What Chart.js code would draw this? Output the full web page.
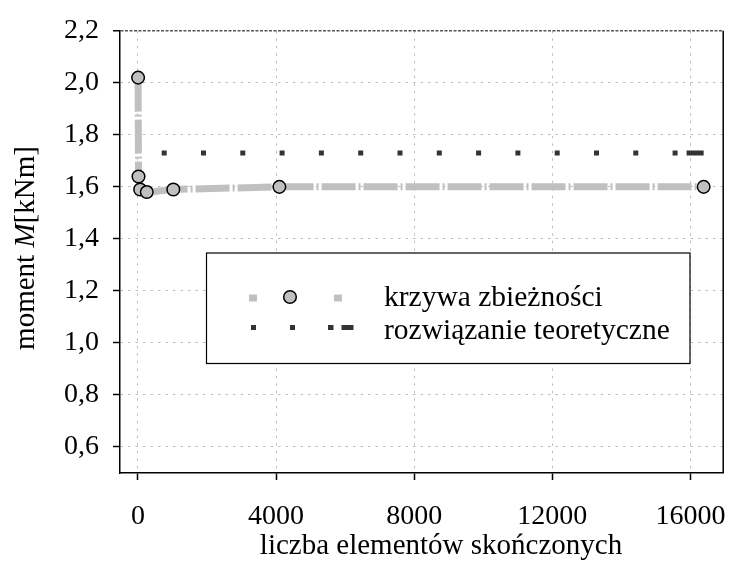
<!DOCTYPE html>
<html><head><meta charset="utf-8">
<script src="https://cdn.jsdelivr.net/npm/chart.js@4.4.1/dist/chart.umd.min.js"></script>
<style>html,body{margin:0;padding:0;background:#fff;} #wrap{width:731px;height:566px;}</style>
</head><body><div id="wrap"><canvas id="c" width="731" height="566"></canvas></div>
<script>
const elementCounts = [4, 16, 64, 256, 1024, 4096, 16384];
const momentValues = [2.02, 1.64, 1.59, 1.58, 1.59, 1.60, 1.60];
const theoryX = [4, 16384];
const theoryValues = [1.73, 1.73];
const xTicks = [0, 4000, 8000, 12000, 16000];
const yTicks = [0.6, 0.8, 1.0, 1.2, 1.4, 1.6, 1.8, 2.0, 2.2];
const seriesNames = ['krzywa zbieżności', 'rozwiązanie teoretyczne'];
const xTitle = 'liczba elementów skończonych';
const yTitleParts = ['moment ', 'M', '[kNm]'];

const FONT = '"Liberation Serif", "Times New Roman", serif';
const GRAY = '#c0c0c0';
const DARK = '#333333';
const GRID = '#bdbdbd';

const theoryDash = [0, 23.6];
for (let i = 0; i < 13; i++) theoryDash.push(5, 34.3);
theoryDash.push(5, 9, 20, 60);

const isTop = (c) => c.tick && Math.abs(c.tick.value - 2.2) < 1e-6;

const decor = {
  id: 'decor',
  afterDraw(chart) {
    const ctx = chart.ctx;
    const a = chart.chartArea;
    ctx.save();
    ctx.strokeStyle = '#000';
    ctx.lineWidth = 1.5;
    ctx.beginPath();
    ctx.moveTo(a.right, a.top);
    ctx.lineTo(a.right, a.bottom);
    ctx.stroke();

    ctx.fillStyle = '#000';
    ctx.font = '29px ' + FONT;
    ctx.textAlign = 'center';
    ctx.textBaseline = 'alphabetic';
    ctx.fillText(xTitle, 441, 554);

    ctx.translate(33.5, 248);
    ctx.rotate(-Math.PI / 2);
    ctx.textAlign = 'left';
    const fonts = ['29px ' + FONT, 'italic 29px ' + FONT, '29px ' + FONT];
    const widths = yTitleParts.map((t, i) => { ctx.font = fonts[i]; return ctx.measureText(t).width; });
    const total = widths.reduce((s, w) => s + w, 0);
    let px = -total / 2;
    yTitleParts.forEach((t, i) => { ctx.font = fonts[i]; ctx.fillText(t, px, 0); px += widths[i]; });
    ctx.setTransform(1, 0, 0, 1, 0, 0);

    const bx = 206.5, by = 253, bw = 483.5, bh = 110.5;
    ctx.fillStyle = '#fff';
    ctx.fillRect(bx, by, bw, bh);
    ctx.strokeStyle = '#000';
    ctx.lineWidth = 1.2;
    ctx.strokeRect(bx, by, bw, bh);

    ctx.strokeStyle = GRAY;
    ctx.lineWidth = 7;
    ctx.setLineDash([8, 77, 8, 20]);
    ctx.beginPath();
    ctx.moveTo(249, 298);
    ctx.lineTo(342, 298);
    ctx.stroke();
    ctx.setLineDash([]);
    ctx.beginPath();
    ctx.arc(290, 297, 6.3, 0, Math.PI * 2);
    ctx.fillStyle = GRAY;
    ctx.fill();
    ctx.lineWidth = 1.5;
    ctx.strokeStyle = '#000';
    ctx.stroke();

    ctx.strokeStyle = DARK;
    ctx.lineWidth = 5;
    ctx.setLineDash([5, 34, 5, 33, 5.5, 8, 12, 40]);
    ctx.beginPath();
    ctx.moveTo(251, 327.5);
    ctx.lineTo(354, 327.5);
    ctx.stroke();
    ctx.setLineDash([]);

    ctx.fillStyle = '#000';
    ctx.font = '29.5px ' + FONT;
    ctx.textAlign = 'left';
    ctx.textBaseline = 'alphabetic';
    ctx.fillText(seriesNames[0], 384, 306);
    ctx.fillText(seriesNames[1], 384, 338.5);
    ctx.restore();
  }
};

new Chart(document.getElementById('c'), {
  type: 'scatter',
  data: {
    datasets: [
      {
        label: seriesNames[0],
        data: elementCounts.map((x, i) => ({ x, y: momentValues[i] })),
        showLine: true,
        borderColor: GRAY,
        borderWidth: 7,
        borderDash: [34, 3, 2, 3],
        pointRadius: 6.3,
        pointBackgroundColor: GRAY,
        pointBorderColor: '#000',
        pointBorderWidth: 1.5,
        order: 1
      },
      {
        label: seriesNames[1],
        data: theoryX.map((x, i) => ({ x, y: theoryValues[i] })),
        showLine: true,
        borderColor: DARK,
        borderWidth: 5,
        borderDash: theoryDash,
        pointRadius: 0,
        order: 2
      }
    ]
  },
  options: {
    responsive: false,
    animation: false,
    devicePixelRatio: 1,
    layout: { padding: { top: 20, right: 6, left: 0, bottom: 0 } },
    plugins: { legend: { display: false }, tooltip: { enabled: false } },
    scales: {
      x: {
        type: 'linear',
        min: -520,
        max: 16950,
        afterBuildTicks: (s) => { s.ticks = xTicks.map(v => ({ value: v })); },
        afterFit: (s) => { s.height = 93; },
        ticks: { font: { family: FONT, size: 28, lineHeight: 2.27 }, color: '#000', padding: 5, maxRotation: 0, autoSkip: false, callback: (v) => String(v) },
        grid: { color: GRID, lineWidth: 1, tickLength: 7, tickColor: '#000', tickWidth: 1.5, tickBorderDash: [] },
        border: { color: '#000', width: 1.5, dash: [2.5, 5] }
      },
      y: {
        type: 'linear',
        min: 0.5,
        max: 2.2,
        afterBuildTicks: (s) => { s.ticks = yTicks.map(v => ({ value: v })); },
        afterFit: (s) => { s.width = 120; },
        ticks: { font: { family: FONT, size: 28 }, color: '#000', padding: 14, autoSkip: false, callback: (v) => Number(v).toFixed(1).replace('.', ',') },
        grid: {
          color: (c) => isTop(c) ? '#555' : GRID,
          lineWidth: (c) => isTop(c) ? 1.5 : 1,
          tickLength: 7, tickColor: '#000', tickWidth: 1.5, tickBorderDash: []
        },
        border: { color: '#000', width: 1.5, dash: (c) => isTop(c) ? [3, 1.5] : [2.5, 5] }
      }
    }
  },
  plugins: [decor]
});
</script>
</body></html>
